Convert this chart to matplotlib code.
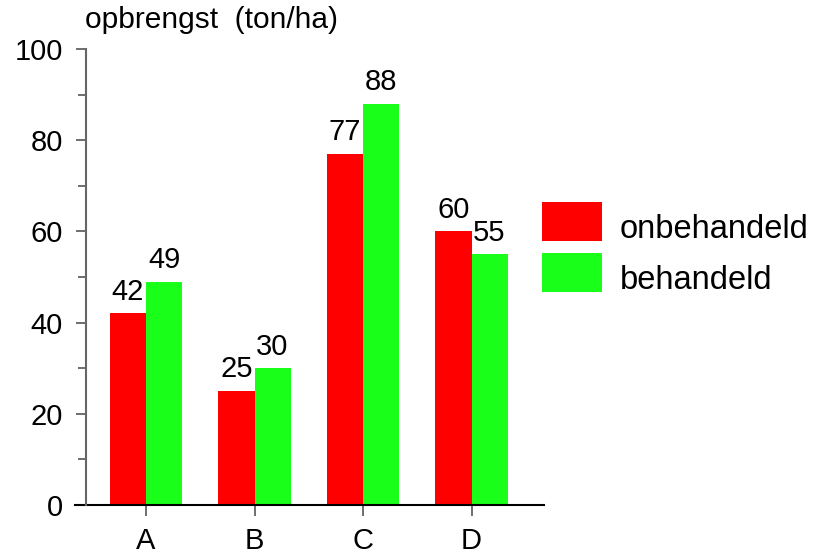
import matplotlib
matplotlib.use('Agg')
import matplotlib.pyplot as plt
from matplotlib.patches import Rectangle
from matplotlib.container import BarContainer
from matplotlib.legend_handler import HandlerPatch, update_from_first_child
import numpy as np

plt.rcParams['font.family'] = ['Liberation Sans', 'DejaVu Sans']

categories = ['A', 'B', 'C', 'D']
onbehandeld = [42, 25, 77, 60]
behandeld = [49, 30, 88, 55]
series_names = ['onbehandeld', 'behandeld']
y_label = 'opbrengst  (ton/ha)'

red = '#ff0000'
green = '#19ff19'

fig = plt.figure(figsize=(8.15, 5.56), dpi=100)
ax = fig.add_axes([86 / 815, 51 / 556, (544 - 86) / 815, (505 - 49) / 556])

x = np.arange(len(categories))
w = 0.332
b1 = ax.bar(x - w / 2, onbehandeld, w, color=red, label=series_names[0])
b2 = ax.bar(x + w / 2, behandeld, w, color=green, label=series_names[1])

for bars in (b1, b2):
    ax.bar_label(bars, padding=5.5, fontsize=21)

ax.set_xlim(-0.553, 3.668)
ax.set_ylim(0, 100)
ax.set_xticks(x)
ax.set_xticklabels(categories, fontsize=21)
ax.set_yticks(range(0, 101, 20))
ax.set_yticks(range(10, 100, 20), minor=True)
ax.tick_params(axis='y', which='major', labelsize=21, length=7.5, width=1.2,
               color='#555555', pad=9)
ax.tick_params(axis='y', which='minor', length=6, width=1.2, color='#555555')
ax.tick_params(axis='x', length=8, width=1.2, color='#555555', pad=8)

for s in ['top', 'right', 'bottom']:
    ax.spines[s].set_visible(False)
ax.spines['left'].set_color('#666666')
ax.spines['left'].set_linewidth(1.5)
ax.axhline(0, xmin=-0.024, xmax=1.0, color='black', lw=1.5, clip_on=False)

fig.text(85 / 815, 1 - 28 / 556, y_label, fontsize=21.5, va='baseline', ha='left')


# legend swatch: 28pt tall, sitting ~2pt below the text baseline
def swatch(legend, orig_handle, xdescent, ydescent, width, height, fontsize):
    return Rectangle((-xdescent, -2.2), width, 28)


ax.legend(handles=[b1, b2], frameon=False, fontsize=23.5,
          loc='upper left', bbox_to_anchor=(542 / 815, 1 - 212 / 556),
          bbox_transform=fig.transFigure,
          handler_map={BarContainer: HandlerPatch(patch_func=swatch,
                                                  update_func=update_from_first_child)},
          handlelength=1.84, handleheight=1.0, labelspacing=0.56,
          handletextpad=0.55, borderpad=0, borderaxespad=0)

fig.savefig('out.png', dpi=100)
